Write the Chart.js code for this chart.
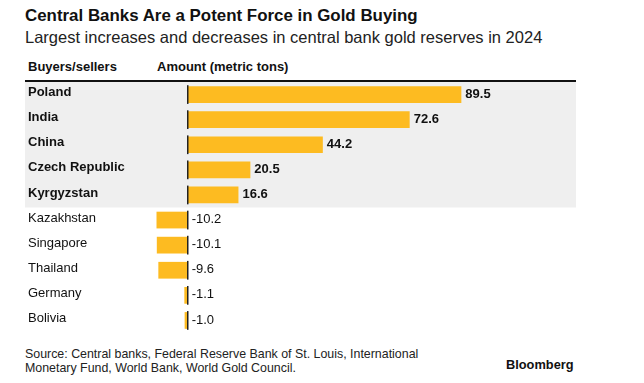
<!DOCTYPE html>
<html>
<head>
<meta charset="utf-8">
<script src="https://cdn.jsdelivr.net/npm/chart.js@4/dist/chart.umd.min.js"></script>
<style>
  body { margin: 0; background: #fff; font-family: "Liberation Sans", Arial, sans-serif; color: #111; }
  #wrap { position: relative; width: 644px; height: 383px; overflow: hidden; }
  .txt { position: absolute; white-space: nowrap; }
  #title { left: 25px; top: 6px; font-size: 16.9px; font-weight: bold; }
  #subtitle { left: 25px; top: 28px; font-size: 16.5px; color: #222; }
  #hdr1 { left: 28px; top: 59px; font-size: 13px; font-weight: bold; }
  #hdr2 { left: 157px; top: 59px; font-size: 13px; font-weight: bold; }
  #source { left: 25px; top: 347px; font-size: 12.4px; line-height: 14px; color: #222; }
  #brand { left: 506px; top: 357px; font-size: 12.8px; font-weight: bold; }
  #chartBox { position: absolute; left: 0; top: 76px; width: 644px; height: 257px; }
</style>
</head>
<body>
<div id="wrap">
  <div class="txt" id="title">Central Banks Are a Potent Force in Gold Buying</div>
  <div class="txt" id="subtitle">Largest increases and decreases in central bank gold reserves in 2024</div>
  <div class="txt" id="hdr1">Buyers/sellers</div>
  <div class="txt" id="hdr2">Amount (metric tons)</div>
  <div id="chartBox"><canvas id="chart"></canvas></div>
  <div class="txt" id="source">Source: Central banks, Federal Reserve Bank of St. Louis, International<br>Monetary Fund, World Bank, World Gold Council.</div>
  <div class="txt" id="brand">Bloomberg</div>
</div>
<script>
const countries = ["Poland", "India", "China", "Czech Republic", "Kyrgyzstan",
                   "Kazakhstan", "Singapore", "Thailand", "Germany", "Bolivia"];
const amounts = [89.5, 72.6, 44.2, 20.5, 16.6, -10.2, -10.1, -9.6, -1.1, -1.0];
const amountLabels = ["89.5", "72.6", "44.2", "20.5", "16.6", "-10.2", "-10.1", "-9.6", "-1.1", "-1.0"];
const xMin = -12;
const xMax = 127;

const FONT = '"Liberation Sans", Arial, sans-serif';

// gray band behind buyers, rule on top, zero segments and value labels
const decor = {
    id: "decor",
    beforeDraw(chart) {
        const ctx = chart.ctx;
        const area = chart.chartArea;
        const meta = chart.getDatasetMeta(0);
        const step = meta.data[1].y - meta.data[0].y;
        let nBuy = amounts.filter(v => v > 0).length;
        ctx.save();
        ctx.fillStyle = "#efefef";
        ctx.fillRect(25, area.top, 576 - 25, nBuy * step);
        ctx.fillStyle = "#111";
        ctx.fillRect(25, area.top - 2, 576 - 25, 2);
        ctx.restore();
    },
    afterDatasetsDraw(chart) {
        const ctx = chart.ctx;
        const meta = chart.getDatasetMeta(0);
        const x0 = chart.scales.x.getPixelForValue(0);
        ctx.save();
        meta.data.forEach((bar, i) => {
            const h = bar.height;
            ctx.fillStyle = "#222";
            ctx.fillRect(Math.round(x0) - 1, bar.y - h / 2 - 1, 1.5, h + 2);
            const pos = amounts[i] > 0;
            ctx.font = (pos ? "bold " : "") + "13px " + FONT;
            ctx.fillStyle = "#111";
            ctx.textBaseline = "middle";
            ctx.textAlign = "left";
            const tx = pos ? bar.x + 4 : x0 + 4;
            ctx.fillText(amountLabels[i], tx, bar.y - 0.5);
        });
        ctx.restore();
    }
};

new Chart(document.getElementById("chart"), {
    type: "bar",
    data: {
        labels: countries,
        datasets: [{
            data: amounts,
            backgroundColor: "#fdbb21",
            borderWidth: 0,
            barPercentage: 0.667,
            categoryPercentage: 1
        }]
    },
    options: {
        indexAxis: "y",
        responsive: true,
        maintainAspectRatio: false,
        animation: false,
        layout: { padding: { left: 28, right: 68, top: 6, bottom: 0 } },
        plugins: { legend: { display: false }, tooltip: { enabled: false } },
        scales: {
            x: { display: false, min: xMin, max: xMax },
            y: {
                grid: { display: false, drawTicks: false },
                border: { display: false },
                afterFit: (scale) => {
                    scale.width = 123;
                    scale.paddingTop = 0;
                    scale.paddingBottom = 0;
                },
                ticks: {
                    crossAlign: "far",
                    padding: 0,
                    labelOffset: -2,
                    color: "#111",
                    font: (c) => ({
                        family: FONT,
                        size: 13,
                        weight: amounts[c.index] > 0 ? "bold" : "normal"
                    })
                }
            }
        }
    },
    plugins: [decor]
});
</script>
</body>
</html>
